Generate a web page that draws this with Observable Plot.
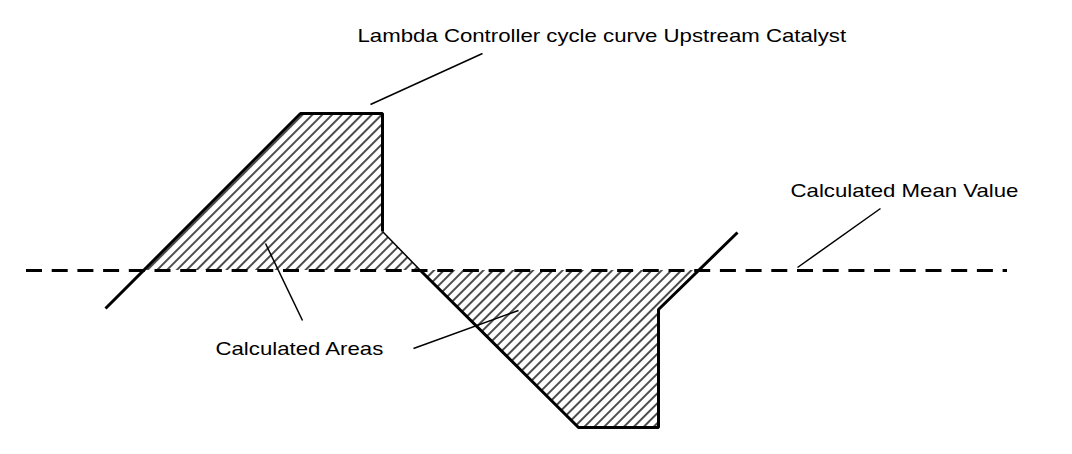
<!DOCTYPE html>
<html>
<head>
<meta charset="utf-8">
<script src="https://cdn.jsdelivr.net/npm/d3@7"></script>
<script src="https://cdn.jsdelivr.net/npm/@observablehq/plot@0.6"></script>
<style>
  html, body { margin: 0; padding: 0; background: #fff; }
  #chart svg { display: block; }
</style>
</head>
<body>
<div id="chart"></div>
<script>
// Lambda controller cycle curve (time t, lambda deviation v; mean = 0)
const curveT = [105, 300, 382, 382, 420, 578, 658, 658, 737];
const curveV = [-38, 157, 157, 39, 0, -157, -157, -39, 38];
const curvePiece = [["A", 0, 3], ["B", 3, 4], ["C", 4, 8]];

// Hatched (calculated) areas between curve and mean value
const area1T = [143, 300, 382, 382, 420];
const area1V = [0, 157, 157, 39, 0];
const area2T = [420, 578, 658, 658, 697];
const area2V = [0, -157, -157, -39, 0];

// Mean value line
const meanValue = 0;
const meanStart = 26;
const meanEnd = 1007;

// Annotations
const labels = ["Lambda Controller cycle curve Upstream Catalyst", "Calculated Mean Value", "Calculated Areas"];
const labelT = [357, 790, 215];
const labelV = [234, 79, -79];

const leaderT1 = [370, 797, 302, 413];
const leaderV1 = [166, 3, -50, -78];
const leaderT2 = [482, 880, 265, 518];
const leaderV2 = [217, 62, 27, -40];

// Build tables
const curveRows = [];
for (const [piece, i0, i1] of curvePiece) {
  for (let i = i0; i <= i1; i++) curveRows.push({t: curveT[i], v: curveV[i], piece});
}
const areaRows = [
  ...area1T.map((t, i) => ({t, v: area1V[i], area: 1})),
  ...area2T.map((t, i) => ({t, v: area2V[i], area: 2}))
];
const labelRows = labels.map((text, i) => ({text, t: labelT[i], v: labelV[i]}));
const leaderRows = leaderT1.map((t1, i) => ({t1, v1: leaderV1[i], t2: leaderT2[i], v2: leaderV2[i]}));

const plot = Plot.plot({
  width: 1072,
  height: 454,
  margin: 0,
  x: {domain: [0, 1072], axis: null},
  y: {domain: [-184, 270], axis: null},
  style: {background: "#fff", fontFamily: "'Liberation Sans', Arial, sans-serif"},
  marks: [
    Plot.areaY(areaRows, {x: "t", y1: 0, y2: "v", z: "area", fill: "url(#hatch)", stroke: "none"}),
    Plot.ruleY([meanValue], {x1: meanStart, x2: meanEnd, stroke: "#000", strokeWidth: 2.8, strokeDasharray: "16,9.7"}),
    Plot.line(curveRows, {x: "t", y: "v", z: "piece", stroke: "#000",
      strokeWidth: d => d.piece === "B" ? 1.5 : 3, strokeLinejoin: "miter", strokeLinecap: "butt"}),
    Plot.link(leaderRows, {x1: "t1", y1: "v1", x2: "t2", y2: "v2", stroke: "#000", strokeWidth: 1.5}),
    Plot.text(labelRows, {x: "t", y: "v", text: "text", textAnchor: "start", lineAnchor: "middle",
      fontSize: 18.5, fill: "#000"})
  ]
});

// hatch pattern definition
const svg = d3.select(plot);
const defs = svg.insert("defs", ":first-child");
const pat = defs.append("pattern")
  .attr("id", "hatch")
  .attr("patternUnits", "userSpaceOnUse")
  .attr("width", 7)
  .attr("height", 7)
  .attr("patternTransform", "rotate(45)");
pat.append("line")
  .attr("x1", 1).attr("y1", -1).attr("x2", 1).attr("y2", 8)
  .attr("stroke", "#000").attr("stroke-width", 1.4);

document.getElementById("chart").appendChild(plot);

// labels in the reference are horizontally stretched
svg.selectAll("text").each(function() {
  const len = this.getComputedTextLength();
  this.setAttribute("textLength", (len * 1.2).toFixed(1));
  this.setAttribute("lengthAdjust", "spacingAndGlyphs");
});
</script>
</body>
</html>
